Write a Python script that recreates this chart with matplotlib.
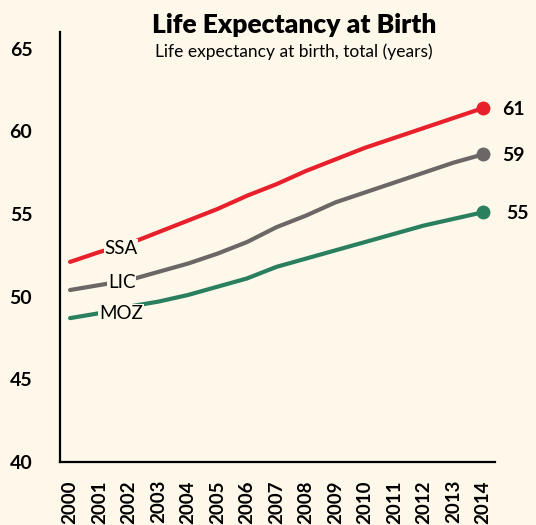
import numpy as np
import matplotlib.pyplot as plt

# life expectancy at birth
years = list(range(2000, 2015))
ssa = [52.1, 52.7, 53.2, 53.9, 54.6, 55.3, 56.1, 56.8, 57.6, 58.3, 59.0, 59.6, 60.2, 60.8, 61.4]
lic = [50.4, 50.7, 51.0, 51.5, 52.0, 52.6, 53.3, 54.2, 54.9, 55.7, 56.3, 56.9, 57.5, 58.1, 58.6]
moz = [48.7, 49.0, 49.4, 49.7, 50.1, 50.6, 51.1, 51.8, 52.3, 52.8, 53.3, 53.8, 54.3, 54.7, 55.1]
end_labels = ["61", "59", "55"]
series_names = ["SSA", "LIC", "MOZ"]

plt.rcParams['font.family'] = ['Lato', 'DejaVu Sans']

bg = '#fdf8ea'
fig = plt.figure(figsize=(5.36, 5.25), dpi=100, facecolor=bg)
ax = fig.add_axes([0.112, 0.12, 0.8116, 0.819])
ax.set_facecolor(bg)

colors = ['#e8202c', '#6a6766', '#2a7f5f']
data = [ssa, lic, moz]
label_pos = [(2001.73, 52.9), (2001.76, 50.84), (2001.73, 48.98)]
end_offsets = [(22, -1), (22, -1), (25, -1)]

for vals, c, name, lp, txt, off in zip(data, colors, series_names, label_pos, end_labels, end_offsets):
    ax.plot(years, vals, color=c, lw=3, solid_capstyle='round', solid_joinstyle='round', zorder=2)
    ax.plot(years[-1], vals[-1], 'o', color=c, ms=9, zorder=3)
    ax.text(lp[0], lp[1], name, ha='center', va='center', fontsize=13.5, color='black',
            bbox=dict(facecolor=bg, edgecolor='none', pad=0.5), zorder=4)
    ax.annotate(txt, (years[-1], vals[-1]), xytext=off, textcoords='offset points',
                ha='center', va='center', fontsize=14, fontweight='bold')

ax.set_xlim(1999.66, 2014.41)
ax.set_ylim(40, 66)
ax.set_yticks([40, 45, 50, 55, 60, 65])
ax.set_xticks(years)
ax.set_xticklabels([str(y) for y in years], rotation=90, fontsize=13.5, fontweight='bold')
for t in ax.get_yticklabels():
    t.set_fontsize(14)
    t.set_fontweight('bold')
ax.tick_params(axis='y', length=0, pad=20)
ax.tick_params(axis='x', length=0, pad=13)

for s in ['top', 'right']:
    ax.spines[s].set_visible(False)
for s in ['left', 'bottom']:
    ax.spines[s].set_linewidth(1.6)
    ax.spines[s].set_color('black')

fig.text(0.549, 0.952, "Life Expectancy at Birth", ha='center', va='center',
         fontsize=19, fontweight='heavy')
fig.text(0.549, 0.902, "Life expectancy at birth, total (years)", ha='center', va='center',
         fontsize=12.5)

fig.savefig("out.png", dpi=100, facecolor=bg)
